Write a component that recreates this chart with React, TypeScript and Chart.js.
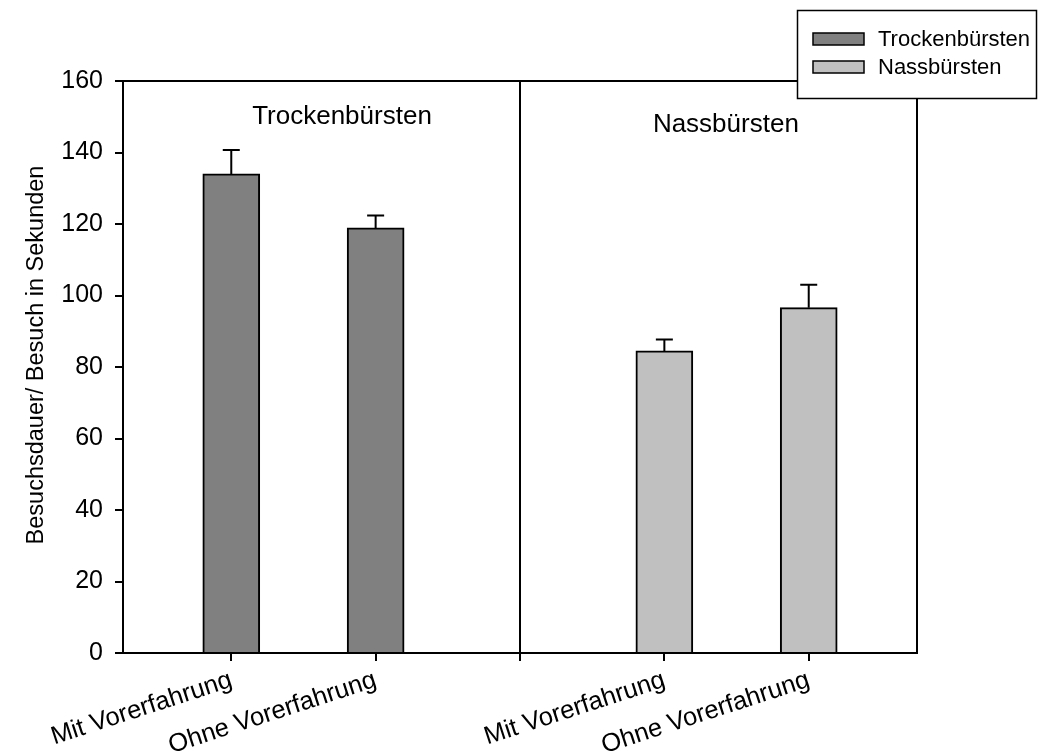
import React, { useEffect, useRef } from "react";
import { Chart, registerables } from "chart.js";

Chart.register(...registerables);

// ---- data ----
const categories = ["Mit Vorerfahrung", "Ohne Vorerfahrung", "Mit Vorerfahrung", "Ohne Vorerfahrung"];
const seriesNames = ["Trockenbürsten", "Nassbürsten"];
const trockenPositions = [1, 2];
const nassPositions = [4, 5];
const trockenValues = [134.0, 118.9];
const trockenErrors = [6.7, 3.5];
const nassValues = [84.5, 96.6];
const nassErrors = [3.2, 6.4];
const xTickValues = [1, 2, 3, 4, 5];
const dividerValue = 3;
const groupLabels = ["Trockenbürsten", "Nassbürsten"];
const yAxisTitle = "Besuchsdauer/ Besuch in Sekunden";

// ---- layout / style ----
const FONT = "'Liberation Sans', Arial, Helvetica, sans-serif";
const groupLabelAnchors = [
  { x: 1.767, y: 150 },
  { x: 4.426, y: 147.8 },
];
const colors = ["#808080", "#c0c0c0"];

const labelFor = (v: number) => {
  const all = [...trockenPositions, ...nassPositions];
  const i = all.indexOf(v);
  return i >= 0 ? categories[i] : "";
};

const errorBarPlugin = {
  id: "errorBars",
  afterDatasetsDraw(chart: any) {
    const { ctx } = chart;
    const yScale = chart.scales.y;
    const errs = [trockenErrors, nassErrors];
    chart.data.datasets.forEach((ds: any, di: number) => {
      const meta = chart.getDatasetMeta(di);
      meta.data.forEach((el: any, i: number) => {
        const v = ds.data[i].y;
        const top = yScale.getPixelForValue(v + errs[di][i]);
        ctx.save();
        ctx.strokeStyle = "#000";
        ctx.lineWidth = 2;
        ctx.beginPath();
        ctx.moveTo(el.x, el.y);
        ctx.lineTo(el.x, top);
        ctx.moveTo(el.x - 8.5, top);
        ctx.lineTo(el.x + 8.5, top);
        ctx.stroke();
        ctx.restore();
      });
    });
  },
};

const framePlugin = {
  id: "frame",
  afterDraw(chart: any) {
    const { ctx, chartArea: a } = chart;
    ctx.save();
    ctx.strokeStyle = "#000";
    ctx.lineWidth = 2;
    ctx.beginPath();
    ctx.moveTo(a.left, a.top);
    ctx.lineTo(a.right, a.top);
    ctx.lineTo(a.right, a.bottom);
    ctx.stroke();

    // group annotations
    ctx.fillStyle = "#000";
    ctx.font = `26px ${FONT}`;
    ctx.textAlign = "center";
    ctx.textBaseline = "middle";
    groupLabels.forEach((t, i) => {
      const x = chart.scales.x.getPixelForValue(groupLabelAnchors[i].x);
      const y = chart.scales.y.getPixelForValue(groupLabelAnchors[i].y);
      ctx.fillText(t, x, y);
    });

    // y-axis title
    ctx.save();
    ctx.translate(37, 355);
    ctx.rotate(-Math.PI / 2);
    ctx.font = `23.5px ${FONT}`;
    ctx.textAlign = "center";
    ctx.textBaseline = "middle";
    ctx.fillText(yAxisTitle, 0, 0);
    ctx.restore();

    // legend box
    ctx.fillStyle = "#fff";
    ctx.fillRect(797, 10, 240, 89);
    ctx.lineWidth = 1.5;
    ctx.strokeStyle = "#000";
    ctx.strokeRect(797.5, 10.5, 239, 88);
    chart.data.datasets.forEach((ds: any, i: number) => {
      const y = 33 + i * 28;
      ctx.fillStyle = ds.backgroundColor;
      ctx.fillRect(813, y, 51, 12);
      ctx.strokeStyle = "#000";
      ctx.lineWidth = 1.5;
      ctx.strokeRect(813, y, 51, 12);
      ctx.fillStyle = "#000";
      ctx.font = `22px ${FONT}`;
      ctx.textAlign = "left";
      ctx.textBaseline = "middle";
      ctx.fillText(ds.label, 878, y + 7);
    });
    ctx.restore();
  },
};

export default function App() {
  const ref = useRef<HTMLCanvasElement>(null);
  useEffect(() => {
    if (!ref.current) return;
    const chart = new Chart(ref.current, {
      type: "bar",
      data: {
        datasets: [
          {
            label: seriesNames[0],
            data: trockenPositions.map((x, i) => ({ x, y: trockenValues[i] })),
            backgroundColor: colors[0],
            borderColor: "#000",
            borderWidth: 2,
          },
          {
            label: seriesNames[1],
            data: nassPositions.map((x, i) => ({ x, y: nassValues[i] })),
            backgroundColor: colors[1],
            borderColor: "#000",
            borderWidth: 2,
          },
        ],
      },
      options: {
        animation: false,
        responsive: false,
        maintainAspectRatio: false,
        layout: { padding: { top: 81, right: 121, left: 0, bottom: 0 } },
        plugins: { legend: { display: false }, tooltip: { enabled: false } },
        datasets: { bar: { grouped: false, barThickness: 57 } },
        scales: {
          x: {
            type: "linear",
            min: 0.25,
            max: 5.75,
            offset: false,
            afterBuildTicks: (s: any) => {
              s.ticks = xTickValues.map((v) => ({ value: v }));
            },
            afterFit: (s: any) => {
              s.height = 103;
            },
            ticks: {
              callback: (v: any) => labelFor(Number(v)),
              minRotation: 18,
              maxRotation: 18,
              autoSkip: false,
              font: { family: FONT, size: 25.5 },
              color: "#000",
              padding: 4,
            },
            grid: {
              offset: false,
              drawOnChartArea: true,
              color: (c: any) => (c.tick && c.tick.value === dividerValue ? "#000" : "rgba(0,0,0,0)"),
              tickColor: "#000",
              tickLength: 8,
              lineWidth: 2,
            },
            border: { display: true, color: "#000", width: 2 },
          },
          y: {
            min: 0,
            max: 160,
            afterFit: (s: any) => {
              s.width = 123;
            },
            ticks: {
              stepSize: 20,
              font: { family: FONT, size: 25 },
              color: "#000",
              padding: 12,
            },
            grid: { drawOnChartArea: false, tickColor: "#000", tickLength: 8, lineWidth: 2 },
            border: { display: true, color: "#000", width: 2 },
          },
        },
      } as any,
      plugins: [errorBarPlugin, framePlugin],
    });
    return () => chart.destroy();
  }, []);
  return (
    <div style={{ position: "absolute", left: 0, top: 0, width: 1038, height: 756, background: "#fff" }}>
      <canvas ref={ref} width={1038} height={756} />
    </div>
  );
}
